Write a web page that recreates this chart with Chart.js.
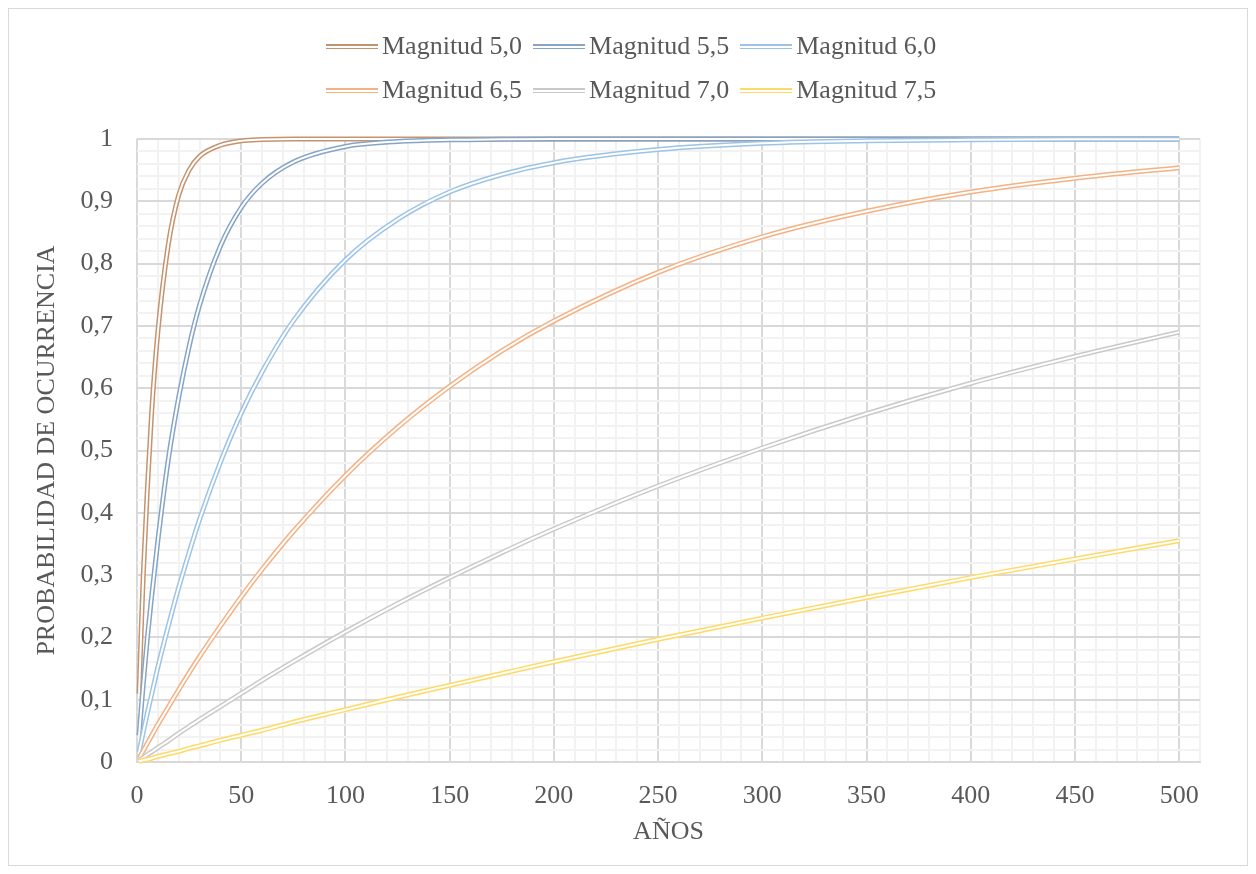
<!DOCTYPE html>
<html>
<head>
<meta charset="utf-8">
<script src="https://cdn.jsdelivr.net/npm/chart.js@4.4.1/dist/chart.umd.min.js"></script>
<style>
  body { margin: 0; background: #fff; }
  #frame { position: absolute; left: 8px; top: 8px; width: 1238px; height: 856px; border: 1px solid #d9d9d9; }
  #stage { position: absolute; left: 0; top: 0; }
  #legend { position: absolute; left: 0; top: 0; font-family: 'Liberation Serif', serif; font-size: 26px; color: #595959; }
  .row { position: absolute; left: 326px; display: flex; align-items: center; height: 30px; white-space: nowrap; }
  .item { display: flex; align-items: center; margin-right: 11px; }
  .sw { width: 52px; height: 5px; margin-right: 4px; }
</style>
</head>
<body>
<div id="frame"></div>
<canvas id="stage" width="1256" height="874"></canvas>
<div id="legend"></div>
<script>
// años (eje X)
var years = [1, 2, 3, 5, 7, 10, 15, 20, 25, 30, 40, 50, 60, 75, 100, 125, 150, 175, 200, 250, 300, 350, 400, 450, 500];

var labels = ['Magnitud 5,0', 'Magnitud 5,5', 'Magnitud 6,0', 'Magnitud 6,5', 'Magnitud 7,0', 'Magnitud 7,5'];
var colors = ['#c6936f', '#86a4c6', '#9dc3e6', '#f4b183', '#c9c9c9', '#ffd966'];

// probabilidad de ocurrencia
var m50 = [0.11, 0.21, 0.30, 0.44, 0.56, 0.69, 0.83, 0.91, 0.95, 0.972, 0.99, 0.997, 0.999, 1, 1, 1, 1, 1, 1, 1, 1, 1, 1, 1, 1];
var m55 = [0.043, 0.085, 0.125, 0.20, 0.265, 0.355, 0.485, 0.585, 0.667, 0.733, 0.828, 0.89, 0.929, 0.963, 0.988, 0.996, 0.9987, 0.9995, 1, 1, 1, 1, 1, 1, 1];
var m60 = [0.016, 0.032, 0.048, 0.079, 0.108, 0.152, 0.218, 0.28, 0.336, 0.389, 0.481, 0.56, 0.626, 0.708, 0.806, 0.871, 0.915, 0.943, 0.962, 0.983, 0.993, 0.997, 0.9986, 0.9994, 0.9997];
var m65 = [0.006, 0.012, 0.018, 0.03, 0.042, 0.06, 0.088, 0.116, 0.143, 0.169, 0.218, 0.265, 0.309, 0.37, 0.46, 0.537, 0.603, 0.66, 0.708, 0.786, 0.843, 0.884, 0.915, 0.937, 0.954];
var m70 = [0.002, 0.005, 0.007, 0.012, 0.016, 0.023, 0.034, 0.046, 0.057, 0.068, 0.089, 0.11, 0.131, 0.161, 0.209, 0.254, 0.296, 0.336, 0.374, 0.443, 0.504, 0.559, 0.608, 0.651, 0.69];
var m75 = [0.001, 0.002, 0.003, 0.004, 0.006, 0.009, 0.013, 0.017, 0.022, 0.026, 0.035, 0.043, 0.051, 0.064, 0.084, 0.104, 0.123, 0.142, 0.161, 0.197, 0.231, 0.264, 0.296, 0.326, 0.355];
var series = [m50, m55, m60, m65, m70, m75];

var textColor = '#595959';
var font = { family: 'Liberation Serif', size: 26 };

// leyenda (línea doble como en Excel)
var legend = document.getElementById('legend');
[[0, 1, 2], [3, 4, 5]].forEach(function (idx, r) {
  var row = document.createElement('div');
  row.className = 'row';
  row.style.top = (r === 0 ? 31 : 75) + 'px';
  idx.forEach(function (i) {
    var it = document.createElement('div');
    it.className = 'item';
    var sw = document.createElement('div');
    sw.className = 'sw';
    sw.style.background = 'linear-gradient(' + colors[i] + ' 0 1.5px, #fff 1.5px 3.5px, ' + colors[i] + ' 3.5px 5px)';
    var tx = document.createElement('span');
    tx.textContent = labels[i];
    it.appendChild(sw);
    it.appendChild(tx);
    row.appendChild(it);
  });
  legend.appendChild(row);
});

// cada serie = línea gruesa de color + línea blanca encima => doble línea
var datasets = [];
series.forEach(function (vals, i) {
  var pts = years.map(function (x, k) { return { x: x, y: vals[k] }; });
  var base = { data: pts, pointRadius: 0, cubicInterpolationMode: 'monotone', borderCapStyle: 'butt', clip: false, fill: false };
  datasets.push(Object.assign({}, base, { label: labels[i], borderColor: colors[i], borderWidth: 5, order: (5 - i) * 2 + 1 }));
  datasets.push(Object.assign({}, base, { label: '', borderColor: '#ffffff', borderWidth: 2, order: (5 - i) * 2 }));
});

var myChart = new Chart(document.getElementById('stage').getContext('2d'), {
  type: 'line',
  data: { datasets: datasets },
  options: {
    responsive: false,
    animation: false,
    layout: { padding: { top: 139, right: 56, left: 0, bottom: 0 } },
    plugins: { legend: { display: false }, tooltip: { enabled: false } },
    scales: {
      x: {
        type: 'linear',
        min: 0, max: 510,
        afterFit: function (s) { s.height = 112; },
        border: { color: '#d9d9d9', width: 2 },
        grid: {
          drawTicks: false,
          lineWidth: 2,
          color: function (c) { return c.tick.value % 50 === 0 ? '#d9d9d9' : '#f2f2f2'; }
        },
        ticks: {
          stepSize: 10, autoSkip: false, maxRotation: 0, padding: 19,
          color: textColor, font: font,
          callback: function (v) { return v % 50 === 0 ? String(v) : ''; }
        },
        title: { display: true, text: 'AÑOS', color: textColor, font: font, padding: { bottom: 26 } }
      },
      y: {
        min: 0, max: 1,
        afterFit: function (s) { s.width = 137; },
        border: { display: false },
        grid: {
          drawTicks: false,
          lineWidth: 2,
          color: function (c) { return Math.round(c.tick.value * 100) % 10 === 0 ? '#d9d9d9' : '#f2f2f2'; }
        },
        ticks: {
          stepSize: 0.02, autoSkip: false, padding: 24,
          color: textColor, font: font,
          callback: function (v) {
            var h = Math.round(v * 100);
            if (h % 10 !== 0) return '';
            return (h / 100).toString().replace('.', ',');
          }
        },
        title: { display: true, text: 'PROBABILIDAD DE OCURRENCIA', color: textColor, font: font, padding: { top: 32 } }
      }
    }
  }
});
</script>
</body>
</html>
